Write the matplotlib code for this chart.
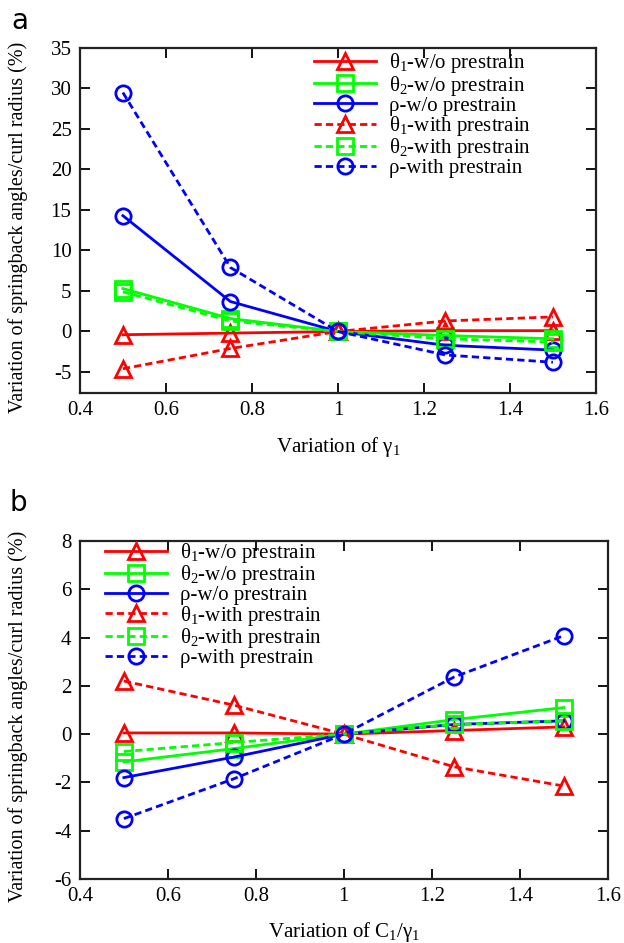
import matplotlib
matplotlib.use("Agg")
import matplotlib.pyplot as plt

plt.rcParams["font.family"] = ["Liberation Serif", "DejaVu Serif"]
plt.rcParams["mathtext.fontset"] = "custom"
plt.rcParams["mathtext.rm"] = "Liberation Serif"
plt.rcParams["mathtext.it"] = "Liberation Serif:italic"
plt.rcParams["mathtext.default"] = "rm"
plt.rcParams["font.size"] = 15

# --- data ---
x_vals = [0.5, 0.75, 1.0, 1.25, 1.5]

# panel a: variation of gamma_1
a_theta1_wo = [-0.4, -0.2, 0.0, 0.1, 0.1]
a_theta2_wo = [5.3, 1.6, 0.0, -0.5, -0.9]
a_rho_wo = [14.3, 3.7, 0.0, -1.7, -2.3]
a_theta1_with = [-4.6, -2.1, 0.0, 1.3, 1.8]
a_theta2_with = [4.9, 1.3, 0.0, -0.9, -1.3]
a_rho_with = [29.5, 7.9, 0.0, -2.9, -3.8]

# panel b: variation of C_1/gamma_1
b_theta1_wo = [0.05, 0.05, 0.0, 0.15, 0.3]
b_theta2_wo = [-1.15, -0.6, 0.0, 0.6, 1.1]
b_rho_wo = [-1.8, -0.95, 0.0, 0.4, 0.55]
b_theta1_with = [2.2, 1.2, 0.0, -1.35, -2.15]
b_theta2_with = [-0.72, -0.35, 0.0, 0.4, 0.55]
b_rho_with = [-3.5, -1.85, 0.0, 2.36, 4.08]

labels = ["θ$_1$-w/o prestrain", "θ$_2$-w/o prestrain", "ρ-w/o prestrain",
          "θ$_1$-with prestrain", "θ$_2$-with prestrain", "ρ-with prestrain"]
colors = ["#ff0000", "#00ff00", "#0000ff"] * 2
markers = ["^", "s", "o"] * 2
styles = ["-"] * 3 + ["--"] * 3

xticks = [0.4, 0.6, 0.8, 1.0, 1.2, 1.4, 1.6]
xtick_labels = ["0.4", "0.6", "0.8", "1", "1.2", "1.4", "1.6"]


def draw(ax, series, ylim, yticks, xlabel, legend_anchor, xlab_y):
    for ys, c, m, ls, lab in zip(series, colors, markers, styles, labels):
        kw = dict(color=c, marker=m, linestyle=ls, linewidth=2.0, markersize=11,
                  markerfacecolor="none", markeredgewidth=2.0, markeredgecolor=c,
                  label=lab)
        if ls == "--":
            kw["dashes"] = (2.6, 1.5)
        ax.plot(x_vals, ys, **kw)
    ax.set_xlim(0.4, 1.6)
    ax.set_ylim(*ylim)
    ax.set_xticks(xticks)
    ax.set_xticklabels(xtick_labels)
    ax.set_yticks(yticks)
    ax.set_yticklabels([str(t) for t in yticks])
    ax.tick_params(direction="in", top=True, right=True, length=7, width=1.3,
                   labelsize=15, pad=6)
    for sp in ax.spines.values():
        sp.set_linewidth(1.6)
        sp.set_color("#222222")
    ax.set_xlabel(xlabel, fontsize=15)
    ax.set_ylabel("Variation of springback angles/curl radius (%)", fontsize=14.5)
    bbox = ax.get_position()
    ax.xaxis.set_label_coords(0.5, xlab_y)
    ax.yaxis.set_label_coords(-52.0 / (bbox.width * 624), 0.48)
    ax.legend(loc="upper left", bbox_to_anchor=legend_anchor, frameon=False,
              borderpad=0, handlelength=3.0, handletextpad=0.62,
              labelspacing=-0.08, fontsize=15, borderaxespad=0)


fig = plt.figure(figsize=(6.24, 9.43), dpi=100)
ax_a = fig.add_axes([0.128, 0.5832, 0.827, 0.3659])
ax_b = fig.add_axes([0.128, 0.0679, 0.846, 0.3584])

draw(ax_a, [a_theta1_wo, a_theta2_wo, a_rho_wo, a_theta1_with, a_theta2_with, a_rho_with],
     (-7.6, 35), list(range(-5, 36, 5)), "Variation of γ$_1$", (0.453, 0.99), -0.122)
draw(ax_b, [b_theta1_wo, b_theta2_wo, b_rho_wo, b_theta1_with, b_theta2_with, b_rho_with],
     (-6, 8), list(range(-6, 9, 2)), "Variation of C$_1$/γ$_1$", (0.047, 1.0), -0.12)

fig.text(0.018, 0.993, "a", fontsize=20, family="DejaVu Sans", va="top", ha="left")
fig.text(0.015, 0.481, "b", fontsize=20, family="DejaVu Sans", va="top", ha="left")

fig.savefig("out.png", dpi=100)
